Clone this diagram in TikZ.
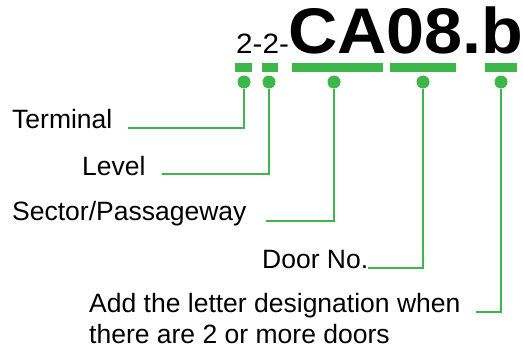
\documentclass[tikz,border=0pt]{standalone}
\usepackage{fontspec}
\setmainfont{Liberation Sans}
\newfontfamily\codefont{Liberation Sans}[FakeStretch=1.06]
\definecolor{leadgreen}{RGB}{61,183,74}

\begin{document}
\begin{tikzpicture}[x=1pt,y=-1pt,
  lbl/.style={anchor=base west, inner sep=0pt, font=\fontsize{26.5}{31}\selectfont},
  bar/.style={fill=leadgreen},
  dot/.style={circle, fill=leadgreen, inner sep=0pt, minimum size=13pt},
  lead/.style={draw=leadgreen, line width=2.8pt}]
\useasboundingbox (0,0) rectangle (523,351);
% door code
\node[anchor=base west, inner sep=0pt, font=\codefont\fontsize{28}{30}\selectfont] (pre) at (236,53) {2-2-};
\node[anchor=base west, inner sep=0pt, font=\codefont\fontsize{64.5}{70}\selectfont\bfseries] (code) at (288,53) {CA08.b};

% bars under each part
\fill[bar] (235,63) rectangle (252,72);
\fill[bar] (262,63) rectangle (278,72);
\fill[bar] (292,63) rectangle (383,72);
\fill[bar] (390,63) rectangle (456,72);
\fill[bar] (485,63) rectangle (517,72);

\node[dot] (d1) at (244,82) {};
\node[dot] (d2) at (269,82) {};
\node[dot] (d3) at (334,82) {};
\node[dot] (d4) at (423,82) {};
\node[dot] (d5) at (501,82) {};

% labels
\node[lbl] (term) at (12,128) {Terminal};
\node[lbl] (lev) at (82,175) {Level};
\node[lbl] (sect) at (12,220) {Sector/Passageway};
\node[lbl] (door) at (262,268) {Door No.};
\node[lbl, align=left] (add) at (89,343) {Add the letter designation when\\there are 2 or more doors};

\coordinate (e1) at (128,128);
\coordinate (e2) at (162,174);
\coordinate (e3) at (266,221);
\coordinate (e4) at (368,268);
\coordinate (e5) at (476,312);

\draw[lead] (d1) |- (e1);
\draw[lead] (d2) |- (e2);
\draw[lead] (d3) |- (e3);
\draw[lead] (d4) |- (e4);
\draw[lead] (d5) |- (e5);
\end{tikzpicture}
\end{document}
